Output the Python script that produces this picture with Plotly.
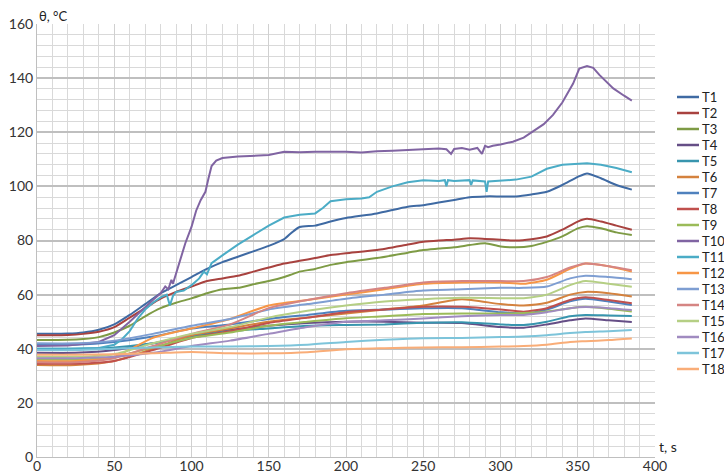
import plotly.graph_objects as go

# common time grid for the lower cluster of sensors
T_BASE = [0, 25, 50, 75, 100, 125, 150, 175, 200, 225, 250, 275, 300, 315, 330, 345, 355, 370, 385]

T4 = [38.5, 38.5, 39.5, 42, 45, 47, 48.5, 49.5, 50, 50, 49.6, 49.5, 48, 47.8, 49, 50.5, 51.2, 50.5, 49.9]
T5 = [40, 40, 40.5, 42, 44.5, 46.5, 47.5, 48.5, 48.8, 49, 49.6, 49.8, 49, 48.8, 50, 52, 52.5, 52.3, 52.1]
T6 = [34, 34, 35.5, 40, 45, 47.5, 50, 51.5, 53, 54.5, 56, 58.3, 56.5, 56, 57, 60, 61, 60.5, 59.3]
T7 = [41.5, 41.5, 42.5, 44.5, 47.5, 49, 51, 52.5, 54, 54.5, 55, 55, 53.5, 53, 54.5, 57.5, 58.5, 57.5, 56.2]
T8 = [34.5, 34.5, 35.5, 39.5, 44, 46.5, 49.5, 51.5, 53.5, 54.5, 55.5, 55.5, 54.5, 53.7, 55, 58, 59, 58, 56.8]
T9 = [36, 36, 37, 40.5, 44, 46, 48.5, 50, 51.3, 52, 52.8, 53, 53, 53.2, 53.8, 55, 55.5, 54.8, 53.8]
T12 = [35.5, 35.5, 37, 44, 47.5, 51, 56, 58, 60, 62, 64, 64.5, 64.5, 64, 65.5, 69.5, 71.5, 70.5, 68.5]
T13 = [42, 42, 43, 45.5, 48.5, 51, 54.5, 56.5, 58.5, 60, 61.5, 62, 62.5, 62.5, 63, 66, 67, 66.5, 65.7]
T14 = [35, 35, 36.5, 41, 45.5, 49, 55, 58, 60.5, 62.5, 64.5, 65, 65, 65, 66.5, 70, 71.5, 70.5, 69]
T15 = [37, 37, 38, 42, 45.5, 48, 51.5, 54, 56, 57.5, 58.3, 58.8, 58.7, 58.7, 60, 63.5, 65, 64, 62.9]
T16 = [36.5, 36.5, 37, 38.5, 41, 43, 45.5, 48, 50, 50.5, 51.2, 52, 52.5, 52.5, 53.5, 55, 55.4, 55, 54.3]
T17 = [39.5, 39.5, 40, 40.5, 40.8, 40.8, 41, 41.5, 42.5, 43.3, 43.9, 44, 44.3, 44.5, 45, 45.8, 46.2, 46.5, 46.9]
T18 = [37.8, 37.8, 38, 38.3, 38.8, 38.3, 38.3, 38.7, 39.8, 40.2, 40.5, 40.6, 40.8, 41, 41.5, 42.5, 42.8, 43.2, 43.8]

# upper sensors, denser grid
T_UP = [0, 20, 30, 40, 50, 60, 70, 80, 90, 100, 110, 120, 130, 140, 150, 160, 165, 170, 180, 190, 200,
        220, 240, 250, 260, 270, 280, 290, 300, 310, 320, 330, 340, 350, 356, 365, 375, 385]
T1 = [45.5, 45.6, 46, 47, 49, 52.5, 56.5, 60.5, 63.5, 66.5, 69.5, 72, 74, 76, 78, 80.5, 83, 85, 85.5, 87, 88.3,
      90, 92.5, 93, 94, 95, 96, 96.3, 96.3, 96.3, 97, 98, 100.5, 103.5, 104.8, 103, 100.5, 98.8]
T2 = [45, 45.1, 45.5, 46.3, 48, 51.5, 55, 58.5, 61, 63, 65, 66, 67, 68.5, 70, 71.5, 72, 72.5, 73.5, 74.6, 75.3,
      76.5, 78.5, 79.5, 80, 80.3, 80.8, 80.6, 80.3, 80, 80.5, 81.5, 84, 87, 88, 87, 85.5, 84]
T3 = [43.2, 43.3, 43.6, 44.3, 46, 48.5, 52, 55, 57, 58.6, 60.5, 62, 62.5, 63.8, 65, 66.5, 67.5, 68.5, 69.5, 71, 72,
      73.5, 75.5, 76.5, 77, 77.5, 78.3, 79, 77.8, 77.5, 78, 79.5, 81.5, 84.5, 85.3, 84.5, 83, 82]

T10_T = [0, 20, 40, 50, 60, 70, 75, 80, 83, 85, 87, 88, 90, 93, 96, 100, 103, 106, 109, 111, 113, 116, 120, 130,
         140, 150, 160, 170, 180, 190, 200, 210, 220, 230, 240, 250, 260, 265, 268, 270, 275, 280, 285, 288, 290,
         292, 295, 300, 308, 315, 321, 328, 334, 340, 347, 351, 356, 360, 364, 373, 380, 385]
T10 = [41, 41.2, 42.5, 45, 50, 55.5, 58, 60.5, 63, 62, 65.5, 64, 68, 74, 79, 85, 91, 95, 98, 103, 107.5, 109.5,
       110.5, 111, 111.3, 111.6, 112.8, 112.6, 112.8, 112.8, 112.8, 112.5, 113, 113.2, 113.5, 113.8, 114, 113.7,
       112, 113.8, 114.2, 113.5, 114.2, 112, 115, 114.5, 115, 115.5, 116.5, 118, 120.2, 123, 126.4, 131, 138,
       143.5, 144.5, 143.8, 141.2, 136.2, 133.5, 131.7]

T11_T = [0, 20, 40, 50, 55, 60, 65, 70, 75, 80, 84, 86, 88, 90, 95, 100, 105, 108, 110, 113, 120, 125, 130, 140,
         150, 160, 170, 180, 185, 190, 200, 210, 215, 220, 230, 240, 250, 260, 264, 265, 266, 270, 280, 281, 282,
         290, 291, 292, 300, 310, 320, 330, 340, 350, 356, 365, 375, 385]
T11 = [40, 40, 40.3, 41.5, 43.5, 46.5, 51, 54.5, 57, 59, 60, 56, 59.5, 61, 61.5, 63.5, 66, 68.5, 67.5, 71.6, 74.5,
       76.5, 78.5, 82, 85.5, 88.5, 89.5, 90, 92, 94.5, 95.2, 95.5, 96, 98, 100, 101.5, 102.3, 102, 102.3, 100,
       102.3, 102, 102.3, 100.5, 102.2, 101.8, 98, 101.8, 102, 102.5, 103.6, 106.5, 108, 108.4, 108.5, 108,
       106.8, 105.2]

NAMES = [f"T{i}" for i in range(1, 19)]
COLORS = ["#3F6AA3", "#A8423F", "#7E9B45", "#654E86", "#3895AE", "#D4823E",
          "#4F81BD", "#C0504D", "#9BBB59", "#8064A2", "#4BACC6", "#F79646",
          "#7E9ED2", "#D58583", "#B5CF84", "#A08BC0", "#7DC4DA", "#F9AD78"]

series = {
    "T1": (T_UP, T1, "spline"), "T2": (T_UP, T2, "spline"), "T3": (T_UP, T3, "spline"),
    "T4": (T_BASE, T4, "spline"), "T5": (T_BASE, T5, "spline"), "T6": (T_BASE, T6, "spline"),
    "T7": (T_BASE, T7, "spline"), "T8": (T_BASE, T8, "spline"), "T9": (T_BASE, T9, "spline"),
    "T10": (T10_T, T10, "linear"), "T11": (T11_T, T11, "linear"), "T12": (T_BASE, T12, "spline"),
    "T13": (T_BASE, T13, "spline"), "T14": (T_BASE, T14, "spline"), "T15": (T_BASE, T15, "spline"),
    "T16": (T_BASE, T16, "spline"), "T17": (T_BASE, T17, "spline"), "T18": (T_BASE, T18, "spline"),
}

FONT = "Lato, Open Sans, sans-serif"
W, H = 724, 476
ML, MR, MT, MB = 37, 69, 24, 19
PW, PH = W - ML - MR, H - MT - MB

fig = go.Figure()
for name, color in zip(NAMES, COLORS):
    xs, ys, shape = series[name]
    fig.add_trace(go.Scatter(x=xs, y=ys, name=name, mode="lines", showlegend=False,
                             line=dict(color=color, width=2, shape=shape, smoothing=0.6)))

# compact legend (Excel-style row spacing), built from the names and colours lists
for i, (name, color) in enumerate(zip(NAMES, COLORS)):
    ypx = 97 + 16 * i
    yp = (H - MB - ypx) / PH
    x0 = (677 - ML) / PW
    x1 = (699 - ML) / PW
    fig.add_shape(type="line", xref="paper", yref="paper", x0=x0, x1=x1, y0=yp, y1=yp,
                  line=dict(color=color, width=2.5))
    fig.add_annotation(text=name, xref="paper", yref="paper", x=(700 - ML) / PW, y=yp,
                       xanchor="left", yanchor="middle", showarrow=False,
                       font=dict(family=FONT, size=13, color="#222222"))

fig.update_layout(
    width=W, height=H,
    margin=dict(l=ML, r=MR, t=MT, b=MB, autoexpand=False),
    paper_bgcolor="white", plot_bgcolor="white",
    font=dict(family=FONT, size=14, color="#333333"),
    showlegend=False,
    xaxis=dict(range=[0, 400], dtick=50, tick0=0, showgrid=True, gridcolor="#D0D0D0", gridwidth=1,
               minor=dict(dtick=10, showgrid=True, gridcolor="#D9D9D9", gridwidth=1),
               showline=True, linecolor="#BFBFBF", linewidth=1, zeroline=False, automargin=False,
               ticks="", ticklabelstandoff=-4, tickfont=dict(size=14, color="#333333")),
    yaxis=dict(range=[0, 160], dtick=20, tick0=0, showgrid=True, gridcolor="#BFBFBF", gridwidth=1.5,
               minor=dict(dtick=4, showgrid=True, gridcolor="#D9D9D9", gridwidth=1),
               showline=True, linecolor="#BFBFBF", linewidth=1, zeroline=False, automargin=False,
               ticks="", tickfont=dict(size=14, color="#333333")),
)

fig.add_annotation(text="θ, °C", xref="paper", yref="paper", x=0.0, y=1.0, xanchor="left", yanchor="bottom",
                   showarrow=False, font=dict(family=FONT, size=13, color="#222222"), yshift=-2)
fig.add_annotation(text="t, s", xref="paper", yref="paper", x=1.0, y=0.0, xanchor="left", yanchor="bottom",
                   showarrow=False, font=dict(family=FONT, size=14, color="#222222"), xshift=2)

fig.write_html("out.html", config={"displayModeBar": False},
               post_script="document.body.style.margin='0';document.body.style.overflow='hidden';")
